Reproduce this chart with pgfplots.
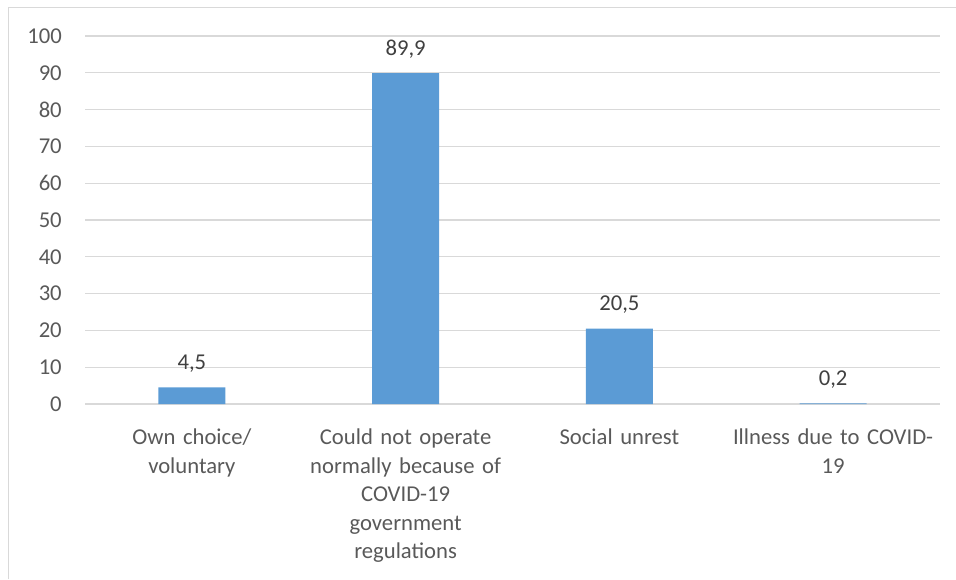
\documentclass[border=0pt]{standalone}
\usepackage{pgfplots}
\pgfplotsset{compat=1.18}
\usepackage{fontspec}
\setmainfont{Carlito}
\definecolor{barblue}{HTML}{5B9BD5}
\definecolor{gridgray}{HTML}{D9D9D9}
\definecolor{ticktext}{HTML}{595959}
\definecolor{datatext}{HTML}{404040}
\begin{document}
\begin{tikzpicture}
\useasboundingbox (0pt,0pt) rectangle (717pt,-434.25pt);
\draw[gridgray, line width=0.75pt] (6pt,-434.25pt) -- (6pt,-5.25pt) -- (717pt,-5.25pt);
\begin{axis}[
  at={(63.75pt,-303pt)}, anchor=south west,
  scale only axis, width=641.25pt, height=276pt,
  xmin=-0.5, xmax=3.5, ymin=0, ymax=100,
  xtick={0,1,2,3},
  xticklabels={{Own choice/\\voluntary},{Could not operate\\normally because of\\COVID-19\\government\\regulations},{Social unrest},{Illness due to COVID-\\19}},
  ytick={0,10,...,100},
  ymajorgrids, major grid style={gridgray, line width=1pt},
  axis line style={draw=none},
  major tick length=0pt,
  /pgf/number format/assume math mode=true,
  xticklabel style={font=\fontsize{17}{21.4}\selectfont, text=ticktext, align=center, text width=160pt, anchor=north, inner sep=0pt, yshift=-18.5pt},
  yticklabel style={font=\fontsize{17}{20}\selectfont, text=ticktext, anchor=east, inner sep=0pt, xshift=-17.25pt},
  ybar, bar width=50.25pt,
  nodes near coords={\pgfmathprintnumber[use comma, fixed, fixed zerofill, precision=1]{\pgfplotspointmeta}},
  every node near coord/.append style={font=\fontsize{17}{20}\selectfont, text=datatext, anchor=base, inner sep=0pt, yshift=13.5pt},
  clip=false,
]
\addplot[fill=barblue, draw=none] coordinates {(0,4.5) (1,89.9) (2,20.5) (3,0.2)};
\end{axis}
\end{tikzpicture}
\end{document}
